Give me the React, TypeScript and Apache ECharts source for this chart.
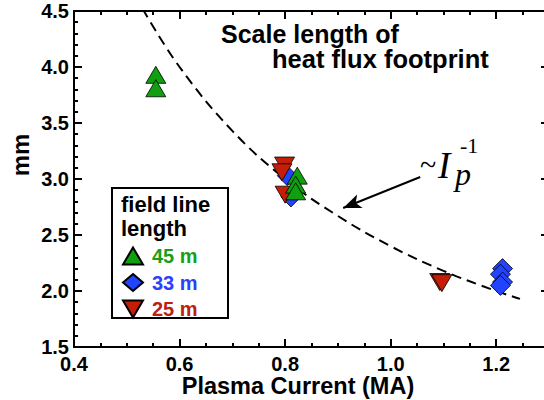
import React, { useEffect, useRef } from "react";
import * as echarts from "echarts";

// ---- data ----
const green45X = [0.555, 0.555, 0.823, 0.82, 0.82];
const green45Y = [3.93, 3.81, 3.03, 2.95, 2.89];

const blue33X = [0.804, 0.811, 1.212, 1.208, 1.212, 1.208];
const blue33Y = [3.03, 2.84, 2.2, 2.15, 2.08, 2.05];

const red25X = [0.799, 0.794, 0.8, 1.093, 1.097];
const red25Y = [3.12, 3.06, 2.86, 2.08, 2.07];

// dashed ~Ip^-1 curve
const curveX = [0.53, 0.6, 0.7, 0.8, 0.9, 1.0, 1.1, 1.2, 1.245];
const curveY = [4.52, 4.0, 3.43, 3.0, 2.67, 2.4, 2.18, 2.0, 1.93];

// arrow (tail -> head)
const arrowX = [1.056, 0.91];
const arrowY = [3.018, 2.741];

const legendNames = ["45 m", "33 m", "25 m"];
const xTitle = "Plasma Current (MA)";
const yTitle = "mm";
const titleLines = ["Scale length of", "heat flux footprint"];
const legendTitle = ["field line", "length"];

const GREEN = "#0f9f0f";
const BLUE = "#2244ff";
const RED = "#c41e08";
const GREEN_T = "#17a017";
const BLUE_T = "#2a40ff";
const RED_T = "#bb2010";

const SANS = '"Liberation Sans", Arial, Helvetica, sans-serif';
const SERIF = '"Liberation Serif", "Times New Roman", serif';

const zip = (xs: number[], ys: number[]) => xs.map((x, i) => [x, ys[i]]);

export default function App() {
  const ref = useRef<HTMLDivElement>(null);

  useEffect(() => {
    if (!ref.current) return;
    const chart = echarts.init(ref.current, undefined, { renderer: "svg" });

    const axisLineStyle = { color: "#000", width: 2 };
    const fmt = (v: number) => v.toFixed(1);

    const xMajor = (position: "bottom" | "top", labels: boolean) => ({
      type: "value",
      position,
      min: 0.4,
      max: 1.3,
      interval: 0.2,
      axisLine: { show: true, onZero: false, lineStyle: axisLineStyle },
      axisTick: { show: true, inside: true, length: 8, lineStyle: axisLineStyle },
      axisLabel: {
        show: labels,
        showMaxLabel: false,
        formatter: fmt,
        color: "#000",
        fontFamily: SANS,
        fontWeight: "bold",
        fontSize: 20,
        margin: 7,
      },
      splitLine: { show: false },
    });
    const xMinor = (position: "bottom" | "top") => ({
      type: "value",
      position,
      min: 0.4,
      max: 1.3,
      interval: 0.05,
      axisLine: { show: false, onZero: false },
      axisTick: { show: true, inside: true, length: 4, lineStyle: axisLineStyle },
      axisLabel: { show: false },
      splitLine: { show: false },
    });
    const yAx = (position: "left" | "right", labels: boolean) => ({
      type: "value",
      position,
      min: 1.5,
      max: 4.5,
      interval: 0.5,
      axisLine: { show: true, onZero: false, lineStyle: axisLineStyle },
      axisTick: { show: true, inside: true, length: 8, lineStyle: axisLineStyle },
      minorTick: { show: true, splitNumber: 5, length: 4, lineStyle: axisLineStyle },
      axisLabel: {
        show: labels,
        formatter: fmt,
        color: "#000",
        fontFamily: SANS,
        fontWeight: "bold",
        fontSize: 20,
        margin: 5,
      },
      splitLine: { show: false },
    });

    const scatterBase = {
      type: "scatter",
      xAxisIndex: 0,
      yAxisIndex: 0,
      emphasis: { disabled: true },
    };

    const option: any = {
      animation: false,
      grid: { left: 74, top: 11, right: 11, bottom: 53 },
      xAxis: [xMajor("bottom", true), xMinor("bottom"), xMajor("top", false), xMinor("top")],
      yAxis: [yAx("left", true), yAx("right", false)],
      legend: {
        data: [
          { name: legendNames[0], textStyle: { color: GREEN_T } },
          { name: legendNames[1], textStyle: { color: BLUE_T } },
          { name: legendNames[2], icon: "path://M0,0L20,0L10,17Z", textStyle: { color: RED_T } },
        ],
        orient: "vertical",
        left: 122,
        top: 246,
        padding: 0,
        itemWidth: 20,
        itemHeight: 17,
        itemGap: 6.5,
        selectedMode: false,
        textStyle: {
          fontFamily: SANS,
          fontWeight: "bold",
          fontSize: 20,
          lineHeight: 18,
          padding: [0, 0, 0, 4],
        },
        z: 5,
      },
      series: [
        {
          type: "line",
          name: "fit",
          xAxisIndex: 0,
          yAxisIndex: 0,
          data: zip(curveX, curveY),
          smooth: 0.4,
          symbol: "none",
          showSymbol: false,
          lineStyle: { color: "#000", width: 2, type: [10, 6] },
          emphasis: { disabled: true },
          markLine: {
            silent: true,
            symbol: ["none", "arrow"],
            symbolSize: [11, 18],
            lineStyle: { color: "#000", width: 2, type: "solid" },
            label: { show: false },
            emphasis: { disabled: true },
            data: [[{ coord: [arrowX[0], arrowY[0]] }, { coord: [arrowX[1], arrowY[1]] }]],
          },
          z: 1,
        },
        {
          ...scatterBase,
          name: legendNames[1],
          data: zip(blue33X, blue33Y),
          symbol: "diamond",
          symbolSize: [20, 20],
          itemStyle: { color: BLUE, borderColor: "#000", borderWidth: 0.8, opacity: 1 },
          z: 2,
        },
        {
          ...scatterBase,
          name: legendNames[2],
          data: zip(red25X, red25Y),
          symbol: "triangle",
          symbolRotate: 180,
          symbolSize: [20, 17],
          itemStyle: { color: RED, borderColor: "#000", borderWidth: 0.8, opacity: 1 },
          z: 3,
        },
        {
          ...scatterBase,
          name: legendNames[0],
          data: zip(green45X, green45Y),
          symbol: "triangle",
          symbolSize: [20, 17],
          itemStyle: { color: GREEN, borderColor: "#000", borderWidth: 0.8, opacity: 1 },
          z: 4,
        },
      ],
      graphic: [
        {
          type: "rect",
          shape: { x: 112, y: 188, width: 116, height: 130 },
          style: { fill: "#fff", stroke: "#000", lineWidth: 2 },
          z: 1,
        },
        {
          type: "text",
          x: 121,
          y: 204,
          style: { text: legendTitle[0], fill: "#000", fontFamily: SANS, fontWeight: "bold", fontSize: 22, align: "left", verticalAlign: "middle" },
          z: 10,
        },
        {
          type: "text",
          x: 121,
          y: 228,
          style: { text: legendTitle[1], fill: "#000", fontFamily: SANS, fontWeight: "bold", fontSize: 22, align: "left", verticalAlign: "middle" },
          z: 10,
        },
        {
          type: "text",
          x: 221,
          y: 34,
          style: { text: titleLines[0], fill: "#000", fontFamily: SANS, fontWeight: "bold", fontSize: 25, align: "left", verticalAlign: "middle" },
          z: 10,
        },
        {
          type: "text",
          x: 272,
          y: 59,
          style: { text: titleLines[1], fill: "#000", fontFamily: SANS, fontWeight: "bold", fontSize: 25.5, align: "left", verticalAlign: "middle" },
          z: 10,
        },
        {
          type: "text",
          x: 298,
          y: 386,
          style: { text: xTitle, fill: "#000", fontFamily: SANS, fontWeight: "bold", fontSize: 23.5, align: "center", verticalAlign: "middle" },
          z: 10,
        },
        {
          type: "text",
          x: 20,
          y: 155,
          rotation: Math.PI / 2,
          style: { text: yTitle, fill: "#000", fontFamily: SANS, fontWeight: "bold", fontSize: 24, align: "center", verticalAlign: "middle" },
          z: 10,
        },
        {
          type: "text",
          x: 420,
          y: 164,
          style: { text: "~", fill: "#000", fontFamily: SERIF, fontSize: 30, align: "left", verticalAlign: "middle" },
          z: 10,
        },
        {
          type: "text",
          x: 438,
          y: 165,
          style: { text: "I", fill: "#000", fontFamily: SERIF, fontStyle: "italic", fontSize: 37, align: "left", verticalAlign: "middle" },
          z: 10,
        },
        {
          type: "text",
          x: 455,
          y: 174,
          style: { text: "p", fill: "#000", fontFamily: SERIF, fontStyle: "italic", fontSize: 32, align: "left", verticalAlign: "middle" },
          z: 10,
        },
        {
          type: "text",
          x: 460,
          y: 145,
          style: { text: "-1", fill: "#000", fontFamily: SERIF, fontSize: 22, align: "left", verticalAlign: "middle" },
          z: 10,
        },
      ],
    };

    chart.setOption(option);
    return () => chart.dispose();
  }, []);

  return (
    <div style={{ position: "absolute", left: 0, top: 0, width: 544, height: 400, overflow: "hidden" }}>
      <div ref={ref} style={{ width: 560, height: 400 }} />
    </div>
  );
}
